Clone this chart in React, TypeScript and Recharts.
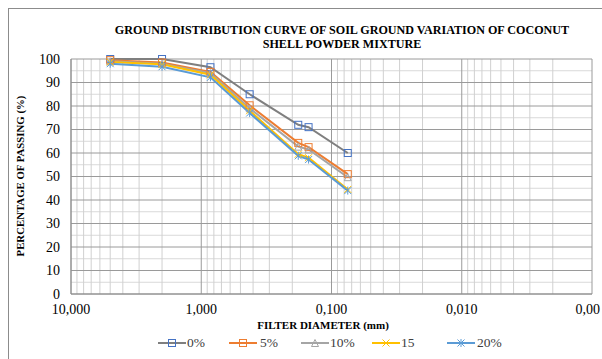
import React from 'react';
import { LineChart, Line, XAxis, YAxis, ReferenceLine } from 'recharts';

const DIAMETERS = [5, 2, 0.85, 0.425, 0.18, 0.15, 0.075];
const PASS_0 = [100, 100, 96.5, 85, 72, 71, 60];
const PASS_5 = [99.5, 98.5, 94.5, 80.3, 64.3, 62.5, 51];
const PASS_10 = [99, 98, 94, 79, 62.7, 61.5, 49.7];
const PASS_15 = [98.7, 97.8, 93.3, 78, 59.5, 58, 44.5];
const PASS_20 = [98, 96.7, 92.2, 77, 58.8, 57.2, 44];

const X_TICKS = [10, 1, 0.1, 0.01, 0.001];
const X_TICK_LABELS = ['10,000', '1,000', '0,100', '0,010', '0,00'];
const Y_TICKS = [0, 10, 20, 30, 40, 50, 60, 70, 80, 90, 100];
const Y_MINOR = [5, 15, 25, 35, 45, 55, 65, 75, 85, 95];
const X_MINOR = [9, 8, 7, 6, 5, 4, 3, 2].flatMap((m) => [m, m / 10, m / 100, m / 1000]);
const X_ALL = [...X_TICKS, ...X_MINOR];

// legend item left edges (icon start, text start)
const LEGEND_ICON_X = [158, 229, 301, 372, 447];
const LEGEND_TEXT_X = [187, 260, 330, 401, 477];

const FONT = '"Liberation Serif", "Times New Roman", serif';

type Marker = 'square' | 'triangle' | 'x' | 'star';

const SERIES: { key: string; name: string; values: number[]; line: string; marker: string; shape: Marker }[] = [
  { key: 'p0', name: '0%', values: PASS_0, line: '#7f7f7f', marker: '#4472c4', shape: 'square' },
  { key: 'p5', name: '5%', values: PASS_5, line: '#ed7d31', marker: '#ed7d31', shape: 'square' },
  { key: 'p10', name: '10%', values: PASS_10, line: '#a5a5a5', marker: '#a5a5a5', shape: 'triangle' },
  { key: 'p15', name: '15', values: PASS_15, line: '#ffc000', marker: '#ffc000', shape: 'x' },
  { key: 'p20', name: '20%', values: PASS_20, line: '#5b9bd5', marker: '#5b9bd5', shape: 'star' },
];

const data = DIAMETERS.map((d, i) => {
  const row: Record<string, number> = { d };
  SERIES.forEach((s) => {
    row[s.key] = s.values[i];
  });
  return row;
});

function MarkerShape({ cx, cy, color, shape }: { cx: number; cy: number; color: string; shape: Marker }) {
  const r = 3.5;
  if (shape === 'square') {
    return <rect x={cx - r} y={cy - r} width={r * 2} height={r * 2} fill="none" stroke={color} strokeWidth={1} />;
  }
  if (shape === 'triangle') {
    return (
      <polygon
        points={`${cx},${cy - r} ${cx + r},${cy + r} ${cx - r},${cy + r}`}
        fill="none"
        stroke={color}
        strokeWidth={1}
      />
    );
  }
  if (shape === 'x') {
    return (
      <path d={`M${cx - r},${cy - r}L${cx + r},${cy + r}M${cx - r},${cy + r}L${cx + r},${cy - r}`} stroke={color} strokeWidth={1} />
    );
  }
  return (
    <path
      d={`M${cx - r},${cy - r}L${cx + r},${cy + r}M${cx - r},${cy + r}L${cx + r},${cy - r}M${cx},${cy - r - 0.5}L${cx},${cy + r + 0.5}`}
      stroke={color}
      strokeWidth={1}
    />
  );
}

// the last label sits at the chart's right edge, so it is right-aligned to stay inside
function XTick(props: any) {
  const { x, y, payload } = props;
  const idx = X_TICKS.indexOf(payload.value);
  const last = idx === X_TICKS.length - 1;
  return (
    <text
      x={last ? 600 : x}
      y={y}
      dy="0.71em"
      textAnchor={last ? 'end' : 'middle'}
      fill="#000"
      fontSize={14}
      fontFamily={FONT}
    >
      {X_TICK_LABELS[idx] ?? ''}
    </text>
  );
}

function LegendRow() {
  return (
    <>
      {SERIES.map((s, i) => (
        <React.Fragment key={s.key}>
          <svg width={28} height={14} style={{ position: 'absolute', left: LEGEND_ICON_X[i], top: 336 }}>
            <line x1={0} y1={7} x2={28} y2={7} stroke={s.line} strokeWidth={2} />
            <MarkerShape cx={14} cy={7} color={s.marker} shape={s.shape} />
          </svg>
          <span
            style={{
              position: 'absolute',
              left: LEGEND_TEXT_X[i],
              top: 334,
              fontFamily: FONT,
              fontSize: 13.5,
              lineHeight: '18px',
              color: '#404040',
              whiteSpace: 'nowrap',
            }}
          >
            {s.name}
          </span>
        </React.Fragment>
      ))}
    </>
  );
}

export default function App() {
  return (
    <div style={{ position: 'absolute', left: 0, top: 0, width: 602, height: 359, background: '#fff', overflow: 'hidden' }}>
      <div
        style={{
          position: 'absolute',
          left: 8,
          top: 8,
          width: 640,
          height: 400,
          border: '1px solid #8c8c8c',
          boxSizing: 'border-box',
        }}
      />
      <div
        style={{
          position: 'absolute',
          left: 42,
          width: 600,
          top: 23,
          textAlign: 'center',
          fontFamily: FONT,
          fontWeight: 'bold',
          fontSize: 12.1,
          lineHeight: '14px',
          color: '#000',
        }}
      >
        GROUND DISTRIBUTION CURVE OF SOIL GROUND VARIATION OF COCONUT
        <br />
        SHELL POWDER MIXTURE
      </div>
      <div
        style={{
          position: 'absolute',
          left: 20,
          top: 176,
          transform: 'translate(-50%, -50%) rotate(-90deg)',
          whiteSpace: 'nowrap',
          fontFamily: FONT,
          fontWeight: 'bold',
          fontSize: 10.8,
          color: '#000',
        }}
      >
        PERCENTAGE OF PASSING (%)
      </div>
      <div
        style={{
          position: 'absolute',
          left: 323,
          top: 325,
          transform: 'translate(-50%, -50%)',
          whiteSpace: 'nowrap',
          fontFamily: FONT,
          fontWeight: 'bold',
          fontSize: 11,
          color: '#000',
        }}
      >
        FILTER DIAMETER (mm)
      </div>
      <div style={{ position: 'absolute', left: 0, top: 0 }}>
        <LineChart width={602} height={359} data={data} margin={{ top: 59, right: 10, bottom: 35, left: 0 }}>
          <XAxis
            xAxisId="minor"
            dataKey="d"
            type="number"
            scale="log"
            domain={[0.001, 10]}
            reversed
            ticks={X_ALL}
            interval={0}
            height={0}
            axisLine={false}
            tickSize={4}
            tickLine={{ stroke: '#b0b0b0' }}
            tick={() => null}
            allowDataOverflow
          />
          <XAxis
            dataKey="d"
            type="number"
            scale="log"
            domain={[0.001, 10]}
            reversed
            ticks={X_TICKS}
            interval={0}
            height={30}
            tickLine={false}
            tickSize={0}
            tickMargin={10}
            axisLine={{ stroke: '#8c8c8c' }}
            tick={<XTick />}
            allowDataOverflow
          />
          <YAxis
            type="number"
            domain={[0, 100]}
            ticks={Y_TICKS}
            interval={0}
            width={71}
            tickLine={false}
            tickSize={0}
            tickMargin={11}
            axisLine={{ stroke: '#8c8c8c' }}
            tick={{ fill: '#000', fontSize: 14, fontFamily: FONT }}
          />
          {Y_MINOR.map((v) => (
            <ReferenceLine key={`ym${v}`} y={v} stroke="#d9d9d9" strokeWidth={1} />
          ))}
          {X_MINOR.map((v) => (
            <ReferenceLine key={`xm${v}`} x={v} stroke="#d0d0d0" strokeWidth={1} />
          ))}
          {Y_TICKS.map((v) => (
            <ReferenceLine key={`y${v}`} y={v} stroke="#9a9a9a" strokeWidth={1} />
          ))}
          {X_TICKS.map((v) => (
            <ReferenceLine key={`x${v}`} x={v} stroke="#9a9a9a" strokeWidth={1} />
          ))}
          {SERIES.map((s) => (
            <Line
              key={s.key}
              dataKey={s.key}
              name={s.name}
              stroke={s.line}
              strokeWidth={2}
              isAnimationActive={false}
              dot={(p: any) => <MarkerShape key={`${s.key}-${p.index}`} cx={p.cx} cy={p.cy} color={s.marker} shape={s.shape} />}
            />
          ))}
        </LineChart>
      </div>
      <LegendRow />
    </div>
  );
}
